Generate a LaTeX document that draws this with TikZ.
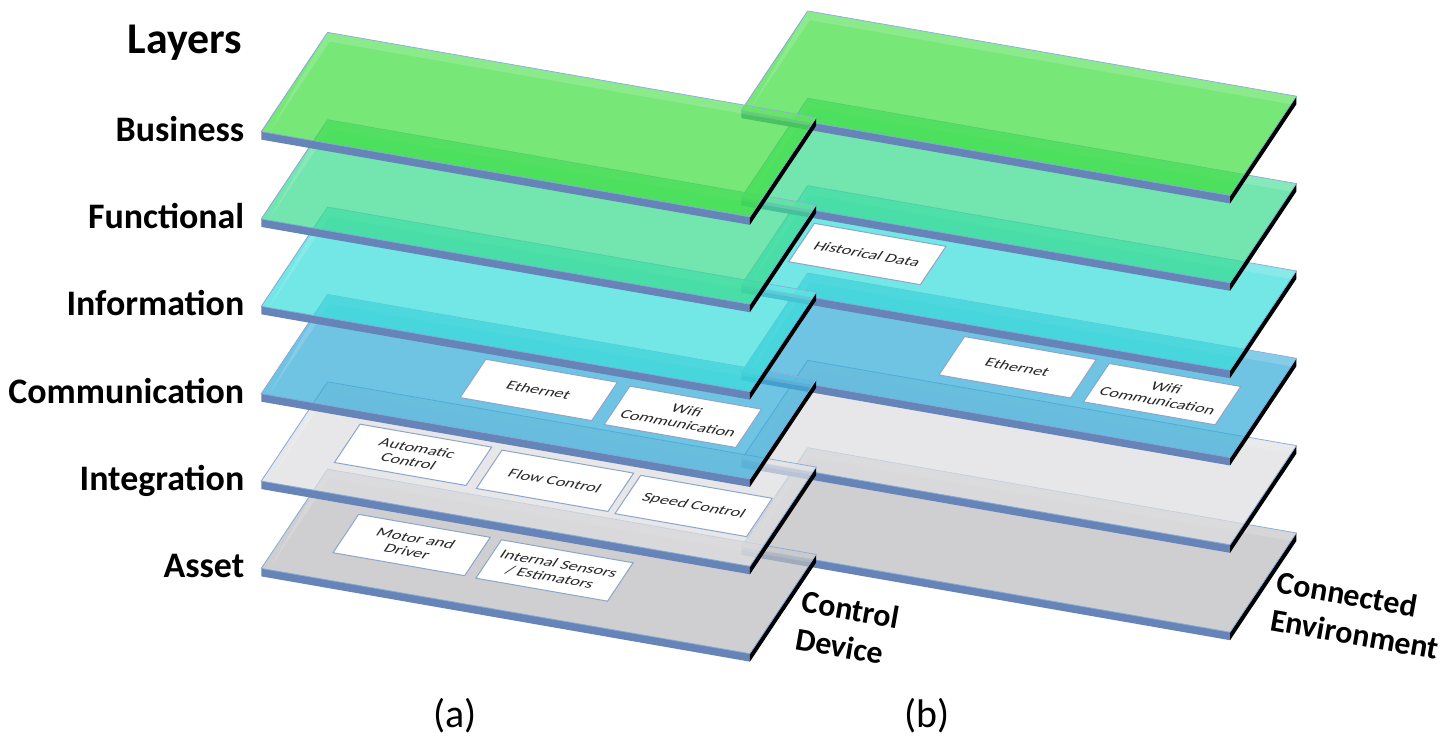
\documentclass[tikz,border=0pt]{standalone}
\usepackage{fontspec}
\setmainfont{Carlito}

\definecolor{busgreen}{RGB}{62,222,62}
\definecolor{fungreen}{RGB}{56,219,142}
\definecolor{infcyan}{RGB}{56,222,219}
\definecolor{comblue}{RGB}{51,171,216}
\definecolor{intgray}{RGB}{222,222,225}
\definecolor{assgray}{RGB}{188,188,191}
\definecolor{sideblue}{RGB}{102,132,184}
\definecolor{rimblue}{RGB}{130,170,215}
\definecolor{cellrim}{RGB}{140,165,200}
\definecolor{celltext}{RGB}{40,40,40}

% one layer plate: front-left corner (x,y in pixels), top colour
\newcommand{\slab}[3]{%
  \fill[sideblue] (#1,#2) -- ++(490,85.5) -- ++(0,8) -- ++(-490,-85.5) -- cycle;
  \fill[black] (#1,#2) ++(490,85.5) -- ++(66.5,-99.5) -- ++(0,8) -- ++(-66.5,99.5) -- cycle;
  \filldraw[draw=rimblue, line width=0.4pt, fill=#3, fill opacity=0.7] (#1,#2) -- ++(490,85.5) -- ++(66.5,-99.5) -- ++(-490,-85.5) -- cycle;
  \fill[white, fill opacity=0.15] (#1,#2) ++(66.5,-99.5) -- ++(490,85.5) -- ++(-5.3,8) -- ++(-482.65,-84.2) -- ++(-61.2,91.5) -- cycle;
}

\tikzset{
  onplate/.style={cm={0.9851,-0.1719,0.4445,0.6651,(#1)}, x=248.7pt, y=74.8pt},
  cell/.style={draw=cellrim, line width=0.5pt, fill=white, transform shape,
    minimum width=67pt, minimum height=28.9pt, inner sep=1pt, align=center,
    text=celltext, font=\fontsize{9}{10}\selectfont},
  lab/.style={anchor=base east, font=\bfseries\fontsize{18}{20}\selectfont},
  side/.style={rotate=-10, align=left, font=\bfseries\fontsize{16}{19}\selectfont}
}

\begin{document}
\begin{tikzpicture}[x=0.5pt, y=-0.5pt]
  \path[fill=white] (0,0) rectangle (1455,754);

  % Asset
  \slab{743.5}{548.5}{assgray}
  \slab{262}{570}{assgray}
  \begin{scope}[onplate={262,570}]
    \node[cell] (motor) at (0.247,0.448) {Motor and\\Driver};
    \node[cell] (sensors) at (0.540,0.443) {Internal Sensors\\/ Estimators};
  \end{scope}

  % Integration
  \slab{743.5}{460.9}{intgray}
  \slab{262}{482.4}{intgray}
  \begin{scope}[onplate={262,482.4}]
    \node[cell] (auto) at (0.246,0.476) {Automatic\\Control};
    \node[cell] (flow) at (0.538,0.465) {Flow Control};
    \node[cell] (speed) at (0.823,0.456) {Speed Control};
  \end{scope}

  % Communication
  \slab{743.5}{373.3}{comblue}
  \begin{scope}[onplate={743.5,373.3}]
    \node[cell] (ethB) at (0.500,0.480) {Ethernet};
    \node[cell] (wifiB) at (0.798,0.465) {Wifi\\Communication};
  \end{scope}
  \slab{262}{394.8}{comblue}
  \begin{scope}[onplate={262,394.8}]
    \node[cell] (ethA) at (0.504,0.471) {Ethernet};
    \node[cell] (wifiA) at (0.801,0.455) {Wifi\\Communication};
  \end{scope}

  % Information
  \slab{743.5}{285.7}{infcyan}
  \begin{scope}[onplate={743.5,285.7}]
    \node[cell] (hist) at (0.193,0.477) {Historical Data};
  \end{scope}
  \slab{262}{307.2}{infcyan}

  % Functional
  \slab{743.5}{198.1}{fungreen}
  \slab{262}{219.6}{fungreen}

  % Business
  \slab{743.5}{110.5}{busgreen}
  \slab{262}{132}{busgreen}

  % layer names
  \node[anchor=base east, font=\bfseries\fontsize{22}{24}\selectfont] (layers) at (250,54) {Layers};
  \node[lab] (business) at (252,141.6) {Business};
  \node[lab] (functional) at (252,229.2) {Functional};
  \node[lab] (information) at (252,316.8) {Information};
  \node[lab] (communication) at (252,404.4) {Communication};
  \node[lab] (integration) at (252,492) {Integration};
  \node[lab] (asset) at (252,579.6) {Asset};

  \node[side] (device) at (850,630) {Control\\Device};
  \node[side] (environment) at (1362,617) {Connected\\Environment};

  \node[font=\fontsize{20}{22}\selectfont] (capa) at (456,718) {(a)};
  \node[font=\fontsize{20}{22}\selectfont] (capb) at (930,718) {(b)};
\end{tikzpicture}
\end{document}
